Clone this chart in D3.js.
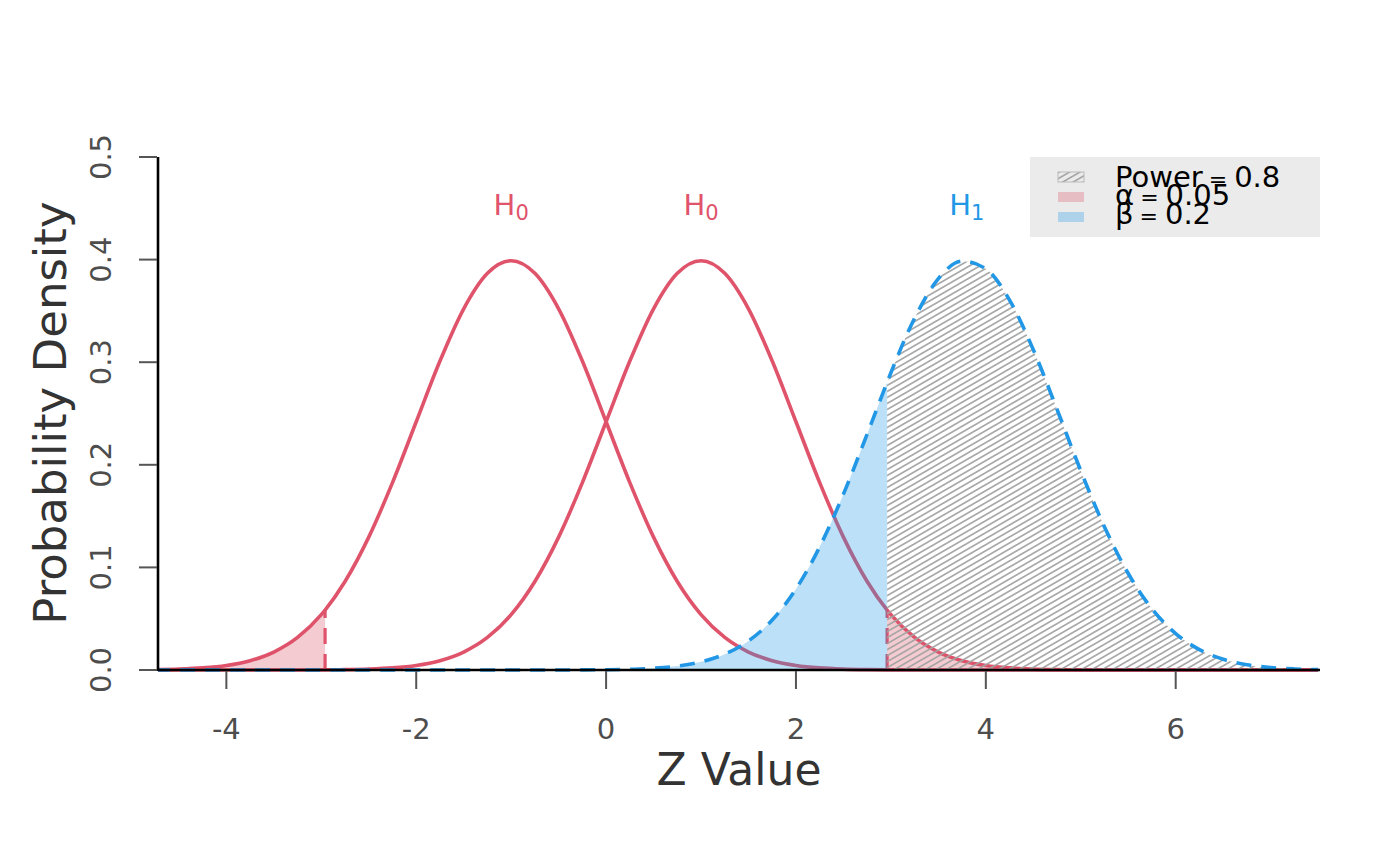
<!DOCTYPE html>
<html>
<head>
<meta charset="utf-8">
<script src="https://cdn.jsdelivr.net/npm/d3@7"></script>
<style>
  body { margin: 0; background: #fff; }
  svg { font-family: "DejaVu Sans", sans-serif; }
</style>
</head>
<body>
<svg id="chart" width="1400" height="866"></svg>
<script>
// z grid (step 0.25, plus the two critical values)
const zGrid = [-4.75, -4.5, -4.25, -4, -3.75, -3.5, -3.25, -3, -2.96, -2.75, -2.5, -2.25, -2, -1.75, -1.5, -1.25,
  -1, -0.75, -0.5, -0.25, 0, 0.25, 0.5, 0.75, 1, 1.25, 1.5, 1.75, 2, 2.25, 2.5, 2.75, 2.96, 3, 3.25, 3.5,
  3.75, 4, 4.25, 4.5, 4.75, 5, 5.25, 5.5, 5.75, 6, 6.25, 6.5, 6.75, 7, 7.25, 7.5];

// H0 centred at -1
const h0LeftDensity = [0.00035, 0.00087, 0.00203, 0.00443, 0.00909, 0.01753, 0.03174, 0.05399, 0.05844, 0.08628,
  0.12952, 0.18265, 0.24197, 0.30114, 0.35207, 0.38667, 0.39894, 0.38667, 0.35207, 0.30114, 0.24197, 0.18265,
  0.12952, 0.08628, 0.05399, 0.03174, 0.01753, 0.00909, 0.00443, 0.00203, 0.00087, 0.00035, 0.00016, 0.00013,
  0.00005, 0.00002, 0, 0, 0, 0, 0, 0, 0, 0, 0, 0, 0, 0, 0, 0, 0, 0];

// H0 centred at +1
const h0RightDensity = [0, 0, 0, 0, 0, 0.00002, 0.00005, 0.00013, 0.00016, 0.00035, 0.00087, 0.00203, 0.00443,
  0.00909, 0.01753, 0.03174, 0.05399, 0.08628, 0.12952, 0.18265, 0.24197, 0.30114, 0.35207, 0.38667, 0.39894,
  0.38667, 0.35207, 0.30114, 0.24197, 0.18265, 0.12952, 0.08628, 0.05844, 0.05399, 0.03174, 0.01753, 0.00909,
  0.00443, 0.00203, 0.00087, 0.00035, 0.00013, 0.00005, 0.00002, 0, 0, 0, 0, 0, 0, 0, 0];

// H1 centred at ~3.8
const h1Density = [0, 0, 0, 0, 0, 0, 0, 0, 0, 0, 0, 0, 0, 0, 0, 0, 0, 0.00001, 0.00004, 0.00011, 0.00029,
  0.00073, 0.00172, 0.00381, 0.00792, 0.01545, 0.02833, 0.04879, 0.07895, 0.12001, 0.17137, 0.22988, 0.28034,
  0.28969, 0.34294, 0.38139, 0.39844, 0.39104, 0.36053, 0.31225, 0.25406, 0.19419, 0.13943, 0.09405, 0.05959,
  0.03547, 0.01984, 0.01042, 0.00514, 0.00238, 0.00104, 0.00042];

const criticalZ = [-2.96, 2.96];
const criticalHeight = [0.05844, 0.05844];

const labelZ = [-1, 1, 3.8];
const labelSub = ["0", "0", "1"];
const labelY = 0.443;

const xTicks = [-4, -2, 0, 2, 4, 6];
const yTicks = [0, 0.1, 0.2, 0.3, 0.4, 0.5];

const legendNames = ["Power", "α", "β"];
const legendValues = ["0.8", "0.05", "0.2"];

const red = "#DF536B", blue = "#2297E6";
const pinkFill = "rgba(223,83,107,0.3)", blueFill = "rgba(34,151,230,0.3)";

const svg = d3.select("#chart");
const plotL = 158, plotR = 1320, plotT = 157, plotB = 670;

const x = d3.scaleLinear().domain([-4.72, 7.52]).range([plotL, plotR]);
const y = d3.scaleLinear().domain([0, 0.5]).range([plotB, plotT]);

const pts = dens => zGrid.map((z, i) => [z, dens[i]]);

const defs = svg.append("defs");
defs.append("clipPath").attr("id", "plotClip")
  .append("rect").attr("x", plotL).attr("y", plotT - 10)
  .attr("width", plotR - plotL).attr("height", plotB - plotT + 12);

const hatch = defs.append("pattern").attr("id", "hatch")
  .attr("patternUnits", "userSpaceOnUse")
  .attr("width", 10).attr("height", 5.2)
  .attr("patternTransform", "rotate(-30)");
hatch.append("line").attr("x1", 0).attr("x2", 10).attr("y1", 2.6).attr("y2", 2.6)
  .attr("stroke", "#a3a3a3").attr("stroke-width", 1.6);

const line = d3.line().x(d => x(d[0])).y(d => y(d[1])).curve(d3.curveMonotoneX);
const area = d3.area().x(d => x(d[0])).y0(y(0)).y1(d => y(d[1])).curve(d3.curveMonotoneX);

const plot = svg.append("g").attr("clip-path", "url(#plotClip)");

// H0 curves
[h0LeftDensity, h0RightDensity].forEach(dens => {
  plot.append("path").attr("d", line(pts(dens)))
    .attr("fill", "none").attr("stroke", red).attr("stroke-width", 3.6);
});

// critical value lines
plot.selectAll(".crit").data(criticalZ).enter().append("line")
  .attr("x1", d => x(d)).attr("x2", d => x(d))
  .attr("y1", y(0)).attr("y2", (d, i) => y(criticalHeight[i]))
  .attr("stroke", red).attr("stroke-width", 3.2)
  .attr("stroke-dasharray", "16,10");

// shaded areas
plot.append("path")
  .attr("d", area(pts(h0LeftDensity).filter(d => d[0] <= criticalZ[0])))
  .attr("fill", pinkFill);
plot.append("path")
  .attr("d", area(pts(h0RightDensity).filter(d => d[0] >= criticalZ[1])))
  .attr("fill", pinkFill);
plot.append("path")
  .attr("d", area(pts(h1Density).filter(d => d[0] <= criticalZ[1])))
  .attr("fill", blueFill);
plot.append("path")
  .attr("d", area(pts(h1Density).filter(d => d[0] >= criticalZ[1])))
  .attr("fill", "url(#hatch)");

// H1 curve
plot.append("path").attr("d", line(pts(h1Density)))
  .attr("fill", "none").attr("stroke", blue).attr("stroke-width", 3.6)
  .attr("stroke-dasharray", "15,10");

// curve labels
const lab = svg.selectAll(".hlab").data(labelZ).enter().append("text")
  .attr("x", d => x(d)).attr("y", y(labelY))
  .attr("text-anchor", "middle")
  .attr("font-size", 29)
  .attr("fill", (d, i) => i < 2 ? red : blue);
lab.append("tspan").text("H");
lab.append("tspan").attr("font-size", 21).attr("dy", 5).text((d, i) => labelSub[i]);

// x axis
svg.append("line").attr("x1", plotL).attr("x2", plotR)
  .attr("y1", plotB).attr("y2", plotB)
  .attr("stroke", "#000").attr("stroke-width", 2.6);
const xg = svg.append("g");
xg.selectAll("line").data(xTicks).enter().append("line")
  .attr("x1", d => x(d)).attr("x2", d => x(d))
  .attr("y1", plotB + 1).attr("y2", plotB + 19)
  .attr("stroke", "#555").attr("stroke-width", 2);
xg.selectAll("text").data(xTicks).enter().append("text")
  .attr("x", d => x(d)).attr("y", 739)
  .attr("text-anchor", "middle").attr("font-size", 29).attr("fill", "#4d4d4d")
  .text(d => d);

// y axis
svg.append("line").attr("x1", plotL).attr("x2", plotL)
  .attr("y1", plotT).attr("y2", plotB + 1)
  .attr("stroke", "#000").attr("stroke-width", 2.6);
const yg = svg.append("g");
yg.selectAll("line").data(yTicks).enter().append("line")
  .attr("x1", plotL - 19).attr("x2", plotL - 1)
  .attr("y1", d => y(d)).attr("y2", d => y(d))
  .attr("stroke", "#555").attr("stroke-width", 2);
yg.selectAll("text").data(yTicks).enter().append("text")
  .attr("transform", d => `translate(111,${y(d)}) rotate(-90)`)
  .attr("text-anchor", "middle").attr("font-size", 29).attr("fill", "#4d4d4d")
  .text(d => d3.format(".1f")(d));

// axis titles
svg.append("text").attr("x", 739).attr("y", 785)
  .attr("text-anchor", "middle").attr("font-size", 44).attr("fill", "#333")
  .text("Z Value");
svg.append("text").attr("transform", "translate(66,413) rotate(-90)")
  .attr("text-anchor", "middle").attr("font-size", 45).attr("fill", "#333")
  .text("Probability Density");

// legend
const lg = svg.append("g");
lg.append("rect").attr("x", 1030).attr("y", 157).attr("width", 290).attr("height", 80)
  .attr("fill", "#ebebeb");
const swFill = ["url(#hatch)", pinkFill, blueFill];
const rowY = [172, 192, 212];
const textY = [187, 205, 224];
lg.selectAll(".sw").data(legendNames).enter().append("rect")
  .attr("x", 1058).attr("y", (d, i) => rowY[i]).attr("width", 26).attr("height", 10)
  .attr("fill", (d, i) => swFill[i])
  .attr("stroke", (d, i) => i === 0 ? "#bbb" : "none").attr("stroke-width", 1);
const lt = lg.selectAll(".lt").data(legendNames).enter().append("text")
  .attr("x", 1115).attr("y", (d, i) => textY[i])
  .attr("font-size", 29).attr("fill", "#000");
lt.append("tspan").text(d => d);
lt.append("tspan").attr("dx", 6).attr("font-size", 22).text("=");
lt.append("tspan").attr("dx", 7).text((d, i) => legendValues[i]);
</script>
</body>
</html>
